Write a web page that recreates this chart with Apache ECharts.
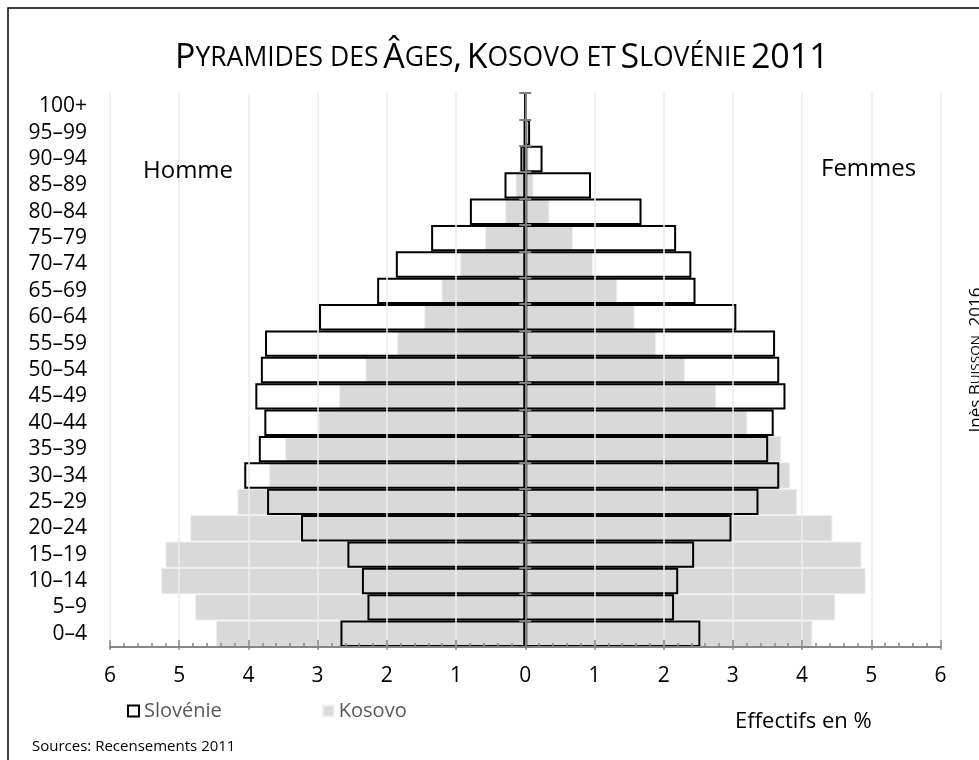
<!DOCTYPE html>
<html>
<head>
<meta charset="utf-8">
<script src="https://cdn.jsdelivr.net/npm/echarts@6/dist/echarts.min.js"></script>
<style>
  html, body { margin: 0; padding: 0; background: #fff; }
  #pyramide { width: 979px; height: 760px; }
</style>
</head>
<body>
<div id="pyramide"></div>
<script>
// classes d'âge, du bas vers le haut
var ages = ['0–4', '5–9', '10–14', '15–19', '20–24', '25–29', '30–34', '35–39', '40–44', '45–49',
    '50–54', '55–59', '60–64', '65–69', '70–74', '75–79', '80–84', '85–89', '90–94', '95–99', '100+'];

// effectifs en % (hommes à gauche, femmes à droite)
var sloveniaMen = [2.67, 2.28, 2.36, 2.57, 3.24, 3.73, 4.06, 3.85, 3.77, 3.90,
    3.82, 3.76, 2.98, 2.14, 1.87, 1.36, 0.80, 0.30, 0.07, 0.02, 0.005];
var sloveniaWomen = [2.53, 2.15, 2.21, 2.44, 2.98, 3.37, 3.67, 3.51, 3.59, 3.76,
    3.67, 3.61, 3.05, 2.46, 2.40, 2.18, 1.68, 0.95, 0.25, 0.07, 0.01];
var kosovoMen = [4.47, 4.77, 5.26, 5.20, 4.84, 4.16, 3.70, 3.47, 2.99, 2.69,
    2.31, 1.85, 1.46, 1.21, 0.94, 0.58, 0.29, 0.14, 0.05, 0.01, 0];
var kosovoWomen = [4.15, 4.48, 4.92, 4.86, 4.44, 3.93, 3.83, 3.70, 3.21, 2.76,
    2.31, 1.89, 1.58, 1.33, 0.98, 0.69, 0.35, 0.12, 0.05, 0.01, 0];

var font = 'Open Sans';
var axisGray = '#868686';

function negate(arr) {
    return arr.map(function (v) { return -v; });
}

function plainText(size) {
    return { fontSize: size, fontWeight: 'normal', color: '#000', fontFamily: font };
}

var option = {
    animation: false,
    textStyle: { fontFamily: font },
    title: [
        {
            left: 175, top: 41, padding: 0,
            text: '{b|P}{s|YRAMIDES DES} {b|Â}{s|GES}{b|,} {b|K}{s|OSOVO ET} {b|S}{s|LOVÉNIE} {b|2011}',
            textStyle: {
                fontWeight: 'normal',
                rich: {
                    b: { fontSize: 34, fontWeight: 'normal', fontFamily: font, color: '#000' },
                    s: { fontSize: 26.5, fontWeight: 'normal', fontFamily: font, color: '#000' }
                }
            }
        },
        { left: 143, top: 159, padding: 0, text: 'Homme', textStyle: plainText(24) },
        { left: 821, top: 157, padding: 0, text: 'Femmes', textStyle: plainText(24) },
        { left: 735, top: 711, padding: 0, text: 'Effectifs en %', textStyle: plainText(22) },
        { left: 32, top: 739, padding: 0, text: 'Sources: Recensements 2011', textStyle: plainText(15) }
    ],
    legend: {
        data: ['Slovénie', 'Kosovo'],
        left: 122, top: 696,
        icon: 'rect',
        itemWidth: 11, itemHeight: 11,
        itemGap: 100,
        textStyle: { fontSize: 20, color: '#595959', fontFamily: font }
    },
    grid: { left: 110, right: 38.5, top: 93, bottom: 113 },
    xAxis: [
        {
            type: 'value', position: 'bottom', z: 5,
            min: -6, max: 6, interval: 1,
            axisLine: { show: true, onZero: false, lineStyle: { color: axisGray, width: 2 } },
            axisTick: { show: true, inside: true, length: 7, lineStyle: { color: axisGray, width: 1.5 } },
            minorTick: { show: true, splitNumber: 5, length: 4, lineStyle: { color: axisGray, width: 1.5 } },
            axisLabel: {
                fontSize: 21, color: '#000', margin: 19, fontFamily: font,
                formatter: function (v) { return Math.abs(v); }
            },
            splitLine: { show: true, lineStyle: { color: '#ececec', width: 1.5 } }
        },
        {
            // petites graduations sous l'axe
            type: 'value', position: 'bottom', z: 5,
            min: -6, max: 6, interval: 1,
            axisLine: { show: false, onZero: false },
            axisTick: { show: true, inside: false, length: 3, lineStyle: { color: axisGray, width: 1.5 } },
            axisLabel: { show: false },
            splitLine: { show: false }
        }
    ],
    yAxis: [
        {
            type: 'category', data: ages, position: 'left',
            axisLine: { show: false, onZero: false },
            axisTick: { show: false },
            axisLabel: { interval: 0, fontSize: 21, color: '#000', margin: 23, fontFamily: font }
        },
        {
            // axe central
            type: 'category', data: ages, position: 'left', z: 10,
            axisLine: { show: true, onZero: true, onZeroAxisIndex: 0, lineStyle: { color: '#7f7f7f', width: 2 } },
            axisTick: { show: true, interval: 0, inside: true, length: 6, lineStyle: { color: '#7f7f7f', width: 2 } },
            axisLabel: { show: false }
        },
        {
            type: 'category', data: ages, position: 'right', z: 10,
            axisLine: { show: true, onZero: true, onZeroAxisIndex: 1, lineStyle: { color: '#7f7f7f', width: 2 } },
            axisTick: { show: true, interval: 0, inside: true, length: 6, lineStyle: { color: '#7f7f7f', width: 2 } },
            axisLabel: { show: false }
        }
    ],
    series: [
        {
            name: 'Kosovo', type: 'bar', silent: true,
            data: negate(kosovoMen),
            barGap: '-100%', barCategoryGap: 0,
            itemStyle: { color: '#d9d9d9', borderColor: '#f0f0f0', borderWidth: 1 }
        },
        {
            name: 'Kosovo', type: 'bar', silent: true,
            data: kosovoWomen,
            barGap: '-100%', barCategoryGap: 0,
            itemStyle: { color: '#d9d9d9', borderColor: '#f0f0f0', borderWidth: 1 }
        },
        {
            name: 'Slovénie', type: 'bar', silent: true, z: 3,
            data: negate(sloveniaMen),
            barGap: '-100%', barCategoryGap: 0,
            itemStyle: { color: 'rgba(255,255,255,0)', borderColor: '#000', borderWidth: 2 }
        },
        {
            name: 'Slovénie', type: 'bar', silent: true, z: 3,
            data: sloveniaWomen,
            barGap: '-100%', barCategoryGap: 0,
            itemStyle: { color: 'rgba(255,255,255,0)', borderColor: '#000', borderWidth: 2 }
        }
    ],
    graphic: [
        {
            // cadre
            type: 'rect', silent: true,
            shape: { x: 8, y: 8, width: 1000, height: 800 },
            style: { fill: 'none', stroke: '#000', lineWidth: 1.5 }
        },
        {
            type: 'text', silent: true,
            x: 976, y: 360, rotation: Math.PI / 2,
            style: {
                text: 'Inès {b|B}{s|UISSON}, 2016',
                fontSize: 17, fontFamily: font, fill: '#000',
                align: 'center', verticalAlign: 'middle',
                rich: {
                    b: { fontSize: 17, fontFamily: font, fill: '#000' },
                    s: { fontSize: 13.5, fontFamily: font, fill: '#000' }
                }
            }
        }
    ]
};

var chart = echarts.init(document.getElementById('pyramide'));
chart.setOption(option);
</script>
</body>
</html>
